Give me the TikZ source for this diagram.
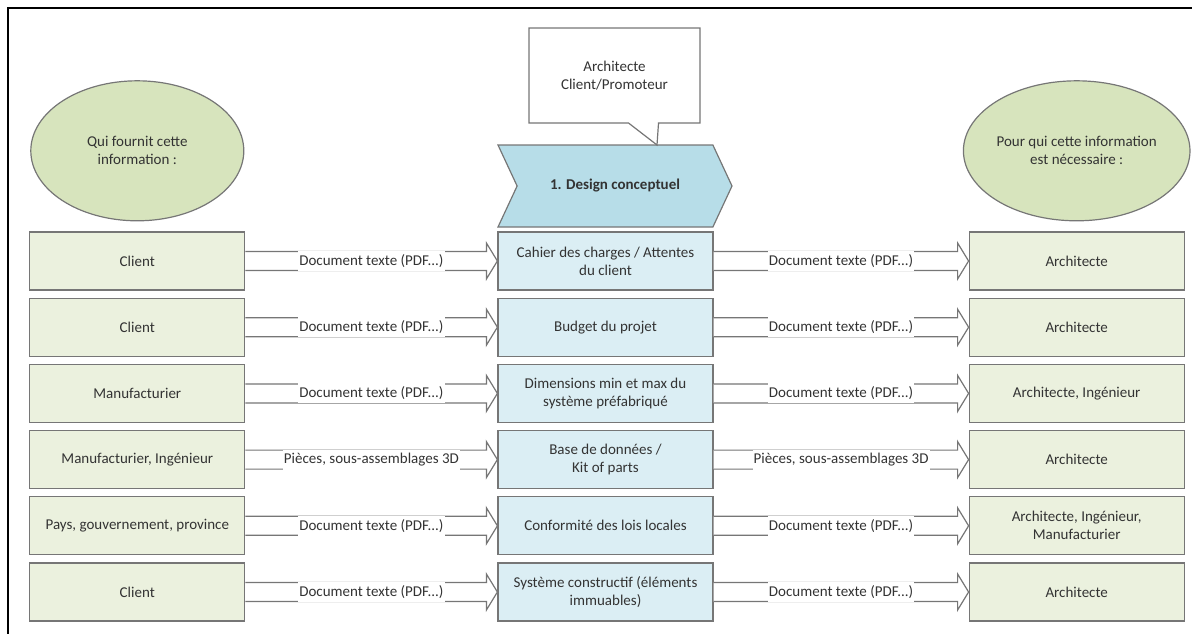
\documentclass[tikz,border=0pt]{standalone}
\usepackage{fontspec}
\setmainfont{Carlito}
\usetikzlibrary{positioning,calc,shapes.geometric,shapes.symbols,shapes.callouts}
\definecolor{BoxGreen}{HTML}{EBF1DE}
\definecolor{OvalGreen}{HTML}{D7E4BD}
\definecolor{BoxBlue}{HTML}{DBEEF4}
\definecolor{PhaseBlue}{HTML}{B7DDE8}
\definecolor{EdgeGray}{HTML}{767676}

% hollow block arrow between two boxes, label sits on the shaft
\newcommand{\infoarrow}[3]{%
  \draw[flowarrow] ($(#1.east)+(0,-9.5)$) -- ($(#2.west)+(-11,-9.5)$) -- ++(0,-8.5)
    -- (#2.west) -- ($(#2.west)+(-11,18)$) -- ++(0,-8.5) -- ($(#1.east)+(0,9.5)$);
  \node[flowlabel] at ($(#1.east)!0.5!(#2.west)$) {#3};}

\begin{document}
\begin{tikzpicture}[x=1pt, y=-1pt,
  every node/.style={font=\fontsize{15}{18}\selectfont, align=center, text=black!80},
  node distance=7pt,
  srcbox/.style={draw=EdgeGray, fill=BoxGreen, line width=1.2pt, minimum width=215pt, minimum height=58pt, inner sep=2pt},
  infobox/.style={srcbox, fill=BoxBlue},
  oval/.style={ellipse, draw=EdgeGray, fill=OvalGreen, line width=1.2pt, minimum width=213pt, minimum height=140pt, inner sep=0pt},
  flowarrow/.style={draw=EdgeGray, fill=white, line width=1.2pt, line join=miter},
  flowlabel/.style={fill=white, inner xsep=1pt, inner ysep=0pt, minimum height=20pt}]
  \useasboundingbox (0,0) rectangle (1192,633);
  \draw[line width=2pt] (8,660) |- (1220,8);

  % middle column: the information itself
  \node[infobox] (info1) at (605.5,261) {Cahier des charges / Attentes\\du client};
  \node[infobox, below=of info1] (info2) {Budget du projet};
  \node[infobox, below=of info2] (info3) {Dimensions min et max du\\système préfabriqué};
  \node[infobox, below=of info3] (info4) {Base de données /\\Kit of parts};
  \node[infobox, below=of info4] (info5) {Conformité des lois locales};
  \node[infobox, below=of info5] (info6) {Système constructif (éléments\\immuables)};

  % who provides it
  \node[srcbox, left=252pt of info1] (src1) {Client};
  \node[srcbox, left=252pt of info2] (src2) {Client};
  \node[srcbox, left=252pt of info3] (src3) {Manufacturier};
  \node[srcbox, left=252pt of info4] (src4) {Manufacturier, Ingénieur};
  \node[srcbox, left=252pt of info5] (src5) {Pays, gouvernement, province};
  \node[srcbox, left=252pt of info6] (src6) {Client};

  % who needs it
  \node[srcbox, right=255pt of info1] (dst1) {Architecte};
  \node[srcbox, right=255pt of info2] (dst2) {Architecte};
  \node[srcbox, right=255pt of info3] (dst3) {Architecte, Ingénieur};
  \node[srcbox, right=255pt of info4] (dst4) {Architecte};
  \node[srcbox, right=255pt of info5] (dst5) {Architecte, Ingénieur,\\Manufacturier};
  \node[srcbox, right=255pt of info6] (dst6) {Architecte};

  % column headers
  \node[oval, above=10pt of src1] (srchead) {Qui fournit cette\\information :};
  \node[oval, above=10pt of dst1] (dsthead) {Pour qui cette information\\est nécessaire :};

  % phase chevron and its actors
  \node[signal, signal to=east, signal from=west, signal pointer angle=130,
        draw=EdgeGray, fill=PhaseBlue, line width=1.2pt, minimum width=234pt, minimum height=82pt,
        font=\fontsize{15}{18}\selectfont\bfseries] (phase) at (615,186) {1. Design conceptuel};
  \node[rectangle callout, draw=EdgeGray, fill=white, line width=1.2pt,
        minimum width=171pt, minimum height=95pt, callout pointer width=30pt,
        callout absolute pointer={(657,145)}] (actors) at (614.5,75.5) {Architecte\\Client/Promoteur};

  \infoarrow{src1}{info1}{Document texte (PDF...)}
  \infoarrow{src2}{info2}{Document texte (PDF...)}
  \infoarrow{src3}{info3}{Document texte (PDF...)}
  \infoarrow{src4}{info4}{Pièces, sous-assemblages 3D}
  \infoarrow{src5}{info5}{Document texte (PDF...)}
  \infoarrow{src6}{info6}{Document texte (PDF...)}

  \infoarrow{info1}{dst1}{Document texte (PDF...)}
  \infoarrow{info2}{dst2}{Document texte (PDF...)}
  \infoarrow{info3}{dst3}{Document texte (PDF...)}
  \infoarrow{info4}{dst4}{Pièces, sous-assemblages 3D}
  \infoarrow{info5}{dst5}{Document texte (PDF...)}
  \infoarrow{info6}{dst6}{Document texte (PDF...)}
\end{tikzpicture}
\end{document}
